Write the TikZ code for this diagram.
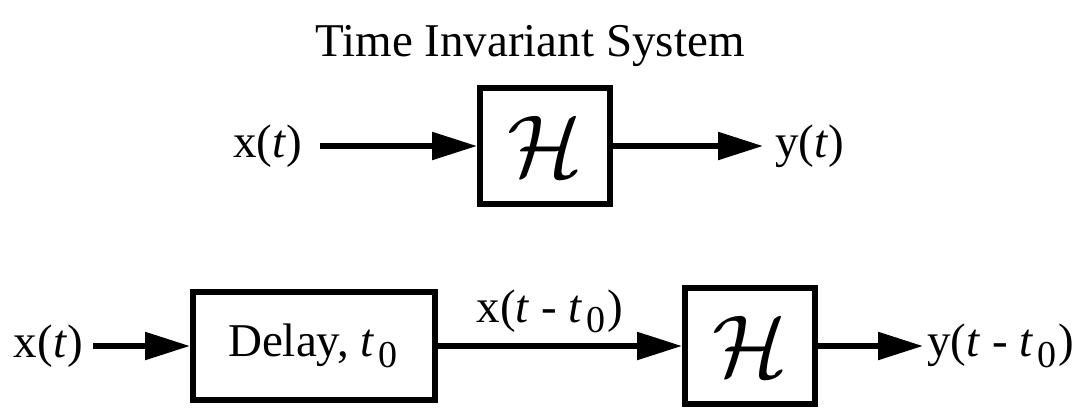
\documentclass[tikz,border=0pt]{standalone}
\usepackage{fontspec}
\usepackage{graphicx}
\setmainfont{Liberation Serif}
\usetikzlibrary{positioning,arrows.meta}
\newcommand{\sigfont}{\fontsize{47}{52}\selectfont}
\newcommand{\tsig}{\textit{t}}
\newcommand{\tzero}{\textit{t}\kern4pt\raisebox{-0.5ex}{\fontsize{38}{38}\selectfont 0}\kern2pt}
\newcommand{\hsys}{\scalebox{8.8}{$\mathcal{H}$}}

\begin{document}
\begin{tikzpicture}[
    x=1pt, y=-1pt,
    sys/.style={draw, line width=6pt, minimum width=130pt, minimum height=116pt, inner sep=0pt},
    sig/.style={inner sep=0pt, font=\sigfont},
    arr/.style={-{Triangle[length=45pt,width=27pt]}, line width=5.5pt}
  ]
  \useasboundingbox (0,0) rectangle (1080,408);

  \node[sig, anchor=base] (title) at (530,56) {Time Invariant System};

  % top row
  \node[sys] (h1) at (545,146) {\hsys};
  \node[sig, left=175pt of h1] (x1) {x(\tsig)};
  \node[sig, right=162pt of h1] (y1) {y(\tsig)};

  \draw[arr, shorten <=18pt] (x1) -- (h1);
  \draw[arr, shorten >=12pt] (h1) -- (y1);

  % bottom row
  \node[sys, font=\sigfont, minimum width=242pt, minimum height=108pt] (delay) at (314,346) {Delay, \tzero};
  \node[sys] (h2) at (750,346) {\hsys};
  \node[sig, left=107pt of delay] (x2) {x(\tsig)};
  \node[sig, right=109pt of h2] (y2) {y(\tsig\ - \tzero)};

  \draw[arr, shorten <=10pt] (x2) -- (delay);
  \draw[arr] (delay) -- node[sig, above=10pt, xshift=-10pt] (xd) {x(\tsig\ - \tzero)} (h2);
  \draw[arr, shorten >=4pt] (h2) -- (y2);
\end{tikzpicture}
\end{document}
